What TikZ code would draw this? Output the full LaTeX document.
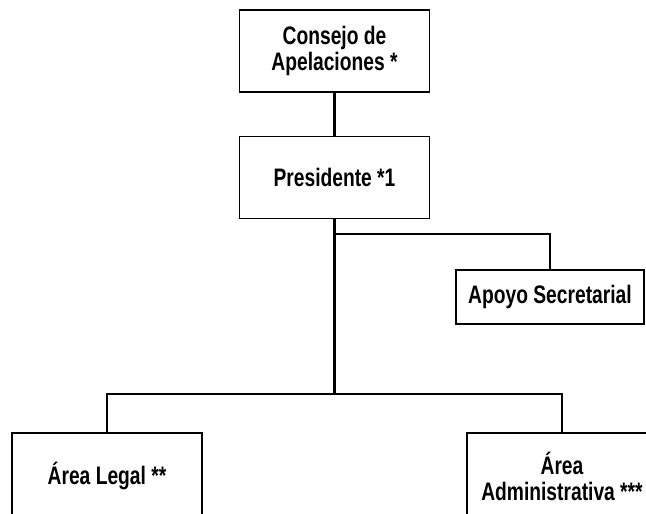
\documentclass[tikz,border=0pt]{standalone}
\usepackage{fontspec}
\setmainfont{Liberation Sans}[FakeStretch=0.76]
\usepackage{tikz}
\usetikzlibrary{positioning, calc}

\begin{document}
\begin{tikzpicture}[x=0.25mm, y=-0.25mm,
    font=\fontsize{18}{18.5}\selectfont\bfseries,
    box/.style={draw, line width=1.3pt, fill=white, align=center,
                minimum width=47.5mm, minimum height=20.5mm, inner sep=0pt},
    link/.style={line width=1.8pt}]
  \useasboundingbox (0,0) rectangle (646,514);
  \clip (0,0) rectangle (646,514);  % boxes at the bottom run off the page

  \node[box] (consejo) at (334.5,51) {Consejo de\\Apelaciones *};
  \node[box] (presidente) at (334.5,177.5) {Presidente *1};
  \node[box, minimum width=47mm, minimum height=13.5mm]
    (apoyo) at (550,297) {Apoyo Secretarial};
  \node[box, minimum height=21.5mm] (legal) at (107,476) {Área Legal **};
  \node[box, minimum height=21.5mm] (admin) at (562,476) {Área\\Administrativa ***};

  \coordinate (split1) at (334.5,234);
  \coordinate (split2) at (334.5,394);
  \draw[link] (consejo) -- (presidente);
  \draw[link] (presidente) -- (split2);
  \draw[link] (split1) -| (apoyo);
  \draw[link] (split2) -| (legal);
  \draw[link] (split2) -| (admin);
\end{tikzpicture}
\end{document}
